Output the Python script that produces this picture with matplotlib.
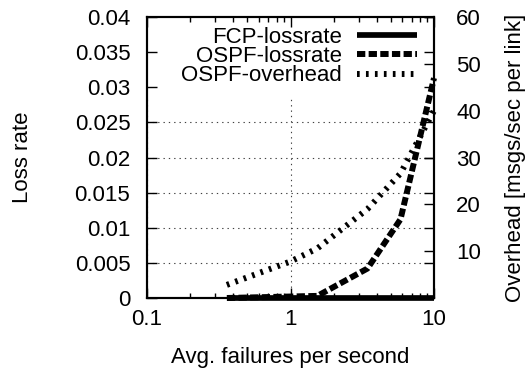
import matplotlib
matplotlib.use("Agg")
import matplotlib.pyplot as plt
from matplotlib.patches import Rectangle
from matplotlib.ticker import LogLocator, FixedLocator, NullFormatter

plt.rcParams['font.family'] = ['Liberation Sans', 'DejaVu Sans']
plt.rcParams['font.size'] = 16

# data
fcp_x = [0.36, 1.54, 3.44, 5.84, 10]
fcp_loss = [0, 0, 0, 0, 0]
ospf_x = [0.36, 1.54, 3.44, 5.84, 10]
ospf_loss = [0, 0.0003, 0.0042, 0.0112, 0.0313]
ovh_x = [0.36, 1.0, 1.54, 3.44, 5.84, 10]
ovh_vals = [2.8, 7.8, 10.6, 19.0, 26.6, 40.0]

left_ticks = [0, 0.005, 0.01, 0.015, 0.02, 0.025, 0.03, 0.035, 0.04]
left_ticklabels = ['0', '0.005', '0.01', '0.015', '0.02', '0.025', '0.03', '0.035', '0.04']
right_ticks = [10, 20, 30, 40, 50, 60]
x_ticks = [0.1, 1, 10]
x_ticklabels = ['0.1', '1', '10']

fig = plt.figure(figsize=(5.3, 3.74), dpi=100)
pos = [147/530, 1-298/374, (434-147)/530, (298-17)/374]

# grid layer
axg = fig.add_axes(pos, zorder=0)
axg.set_xscale('log')
axg.set_xlim(0.1, 10)
axg.set_ylim(0, 0.04)
axg.xaxis.set_major_locator(FixedLocator(x_ticks))
axg.xaxis.set_minor_locator(FixedLocator([]))
axg.yaxis.set_major_locator(FixedLocator(left_ticks))
axg.tick_params(which='both', length=0, labelbottom=False, labelleft=False)
for s in axg.spines.values():
    s.set_visible(False)
axg.grid(True, which='major', color='0.25', linewidth=0.8, linestyle=(0, (1.2, 3.6)))

ax = fig.add_axes(pos, zorder=1)
ax.patch.set_visible(False)
ax.set_xscale('log')
ax.set_xlim(0.1, 10)
ax.set_ylim(0, 0.04)

ax.add_patch(Rectangle((0, (298-98)/281), 1, 1-(298-98)/281, transform=ax.transAxes,
                       facecolor='white', edgecolor='none', zorder=1))

l1, = ax.plot(fcp_x, fcp_loss, color='black', lw=4.1, solid_capstyle='butt',
              clip_on=False, zorder=2, label='FCP-lossrate')
l2, = ax.plot(ospf_x, ospf_loss, color='black', lw=4.3, linestyle=(0, (1.39, 0.56)),
              dash_capstyle='butt', clip_on=False, zorder=2, label='OSPF-lossrate')

ax2 = ax.twinx()
ax2.set_ylim(0, 60)
l3, = ax2.plot(ovh_x, ovh_vals, color='black', lw=4.3, linestyle=(0, (0.45, 1.05)),
               dash_capstyle='butt', clip_on=False, zorder=2, label='OSPF-overhead')

ax.xaxis.set_major_locator(FixedLocator(x_ticks))
ax.set_xticklabels(x_ticklabels)
ax.xaxis.set_minor_locator(LogLocator(base=10, subs=range(2, 10)))
ax.xaxis.set_minor_formatter(NullFormatter())
ax.set_yticks(left_ticks)
ax.set_yticklabels(left_ticklabels)
ax2.set_yticks(right_ticks)
ax2.set_yticklabels([str(t) for t in right_ticks])

ax.tick_params(axis='x', which='major', direction='in', length=7.2, width=1, top=True, pad=8)
ax.tick_params(axis='x', which='minor', direction='in', length=3.6, width=1, top=True)
ax.tick_params(axis='y', which='major', direction='in', length=7.2, width=1,
               left=True, right=True, labelright=False, pad=12)
ax2.tick_params(axis='y', which='major', direction='in', length=7.2, width=1, pad=16)

for a in (ax, ax2):
    for s in a.spines.values():
        s.set_linewidth(1.5)

ax.set_xlabel('Avg. failures per second')
ax.xaxis.label.set_va('center')
ax.xaxis.set_label_coords(0.5, (298-357)/281)
ax.set_ylabel('Loss rate')
ax.yaxis.label.set_va('center')
ax.yaxis.set_label_coords((22-147)/287, 0.5)
ax2.set_ylabel('Overhead [msgs/sec per link]')
ax2.yaxis.label.set_va('center')
ax2.yaxis.set_label_coords((515-147)/287, 0.5)

ax2.legend([l1, l2, l3], ['FCP-lossrate', 'OSPF-lossrate', 'OSPF-overhead'],
           loc='upper right', bbox_to_anchor=(417/530, 1-27/374),
           bbox_transform=fig.transFigure, frameon=False, borderpad=0,
           borderaxespad=0, handlelength=2.7, handletextpad=0.68,
           labelspacing=-0.08, fontsize=16, markerfirst=False)

fig.savefig('out.png', dpi=100)
